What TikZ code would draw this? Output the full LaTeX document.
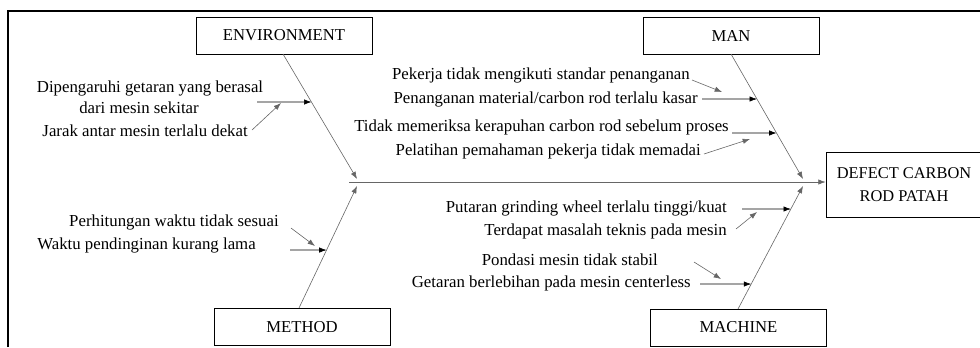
\documentclass[tikz,border=0pt]{standalone}
\usepackage{fontspec}
\setmainfont{Liberation Serif}
\usetikzlibrary{arrows.meta,calc}
\begin{document}
\begin{tikzpicture}[x=0.75pt,y=-0.75pt,
  catbox/.style={draw, line width=0.6pt, minimum width=132pt, minimum height=27.75pt, inner sep=0pt, font=\fontsize{12.5}{14}\selectfont},
  effbox/.style={draw, line width=0.6pt, minimum width=117pt, minimum height=48.75pt, inner sep=0pt, align=center, font=\fontsize{12.3}{17}\selectfont},
  lbl/.style={inner sep=0pt, font=\fontsize{12.6}{14}\selectfont},
  bone/.style={draw=black!60, line width=0.45pt, -{Latex[length=5.5pt,width=4pt]}},
  sub/.style={draw=black, line width=0.45pt, -{Latex[length=5.5pt,width=4pt]}},
  subg/.style={draw=black!60, line width=0.45pt, -{Latex[length=5.5pt,width=4pt]}}]
\useasboundingbox (0,0) rectangle (980,347);
% frame
\draw[line width=1.5pt] (7.5,347) -- (7.5,10.5) -- (980,10.5);
% boxes
\node[catbox] (env) at (284,35.5) {ENVIRONMENT};
\node[catbox] (man) at (731,35.5) {MAN};
\node[catbox] (meth) at (302,327) {METHOD};
\node[catbox] (mach) at (738.5,327.5) {MACHINE};
\node[effbox] (eff) at (904,184.5) {DEFECT CARBON\\ROD PATAH};
% spine
\coordinate (spS) at (349,182);
\draw[bone] (spS) -- (eff.west |- spS);
% main bones
\coordinate (envS) at (283,54); \coordinate (envE) at (357,179);
\coordinate (manS) at (731,54); \coordinate (manE) at (803,179);
\coordinate (metS) at (299,308); \coordinate (metE) at (357,186);
\coordinate (macS) at (738,309); \coordinate (macE) at (803,186);
\draw[bone] (envS) -- (envE);
\draw[bone] (manS) -- (manE);
\draw[bone] (metS) -- (metE);
\draw[bone] (macS) -- (macE);
% ENVIRONMENT causes
\node[lbl] (e1) at (150,88) {Dipengaruhi getaran yang berasal};
\node[lbl] (e2) at (139,108) {dari mesin sekitar};
\node[lbl, anchor=east] (e3) at (248,131) {Jarak antar mesin terlalu dekat};
\coordinate (e1s) at (257,102);
\coordinate (e1e) at ($(envS)!0.384!(envE)$);
\draw[sub] (e1s) -- (e1e);
\coordinate (e3s) at (252,130); \coordinate (e3e) at (281,103);
\draw[subg] (e3s) -- (e3e);
% MAN causes
\node[lbl, anchor=east] (m1) at (690,75) {Pekerja tidak mengikuti standar penanganan};
\node[lbl, anchor=east] (m2) at (698,99) {Penanganan material/carbon rod terlalu kasar};
\node[lbl, anchor=east] (m3) at (729,127) {Tidak memeriksa kerapuhan carbon rod sebelum proses};
\node[lbl, anchor=east] (m4) at (701,151) {Pelatihan pemahaman pekerja tidak memadai};
\coordinate (m1s) at (692,80); \coordinate (m1e) at (722,92);
\draw[subg] (m1s) -- (m1e);
\coordinate (m2s) at (702,99); \coordinate (m2e) at ($(manS)!0.36!(manE)$);
\draw[sub] (m2s) -- (m2e);
\coordinate (m3s) at (732,133); \coordinate (m3e) at ($(manS)!0.632!(manE)$);
\draw[sub] (m3s) -- (m3e);
\coordinate (m4s) at (704,154); \coordinate (m4e) at (750,139);
\draw[subg] (m4s) -- (m4e);
% MACHINE causes
\node[lbl, anchor=east] (c1) at (727,208) {Putaran grinding wheel terlalu tinggi/kuat};
\node[lbl, anchor=east] (c2) at (727,231) {Terdapat masalah teknis pada mesin};
\node[lbl, anchor=east] (c3) at (658,260) {Pondasi mesin tidak stabil};
\node[lbl, anchor=east] (c4) at (691,283) {Getaran berlebihan pada mesin centerless};
\coordinate (c1s) at (742,209); \coordinate (c1e) at ($(macS)!0.813!(macE)$);
\draw[sub] (c1s) -- (c1e);
\coordinate (c2s) at (736,229); \coordinate (c2e) at (757,212);
\draw[subg] (c2s) -- (c2e);
\coordinate (c3s) at (694,262); \coordinate (c3e) at (721,279);
\draw[subg] (c3s) -- (c3e);
\coordinate (c4s) at (700,284); \coordinate (c4e) at ($(macS)!0.203!(macE)$);
\draw[sub] (c4s) -- (c4e);
% METHOD causes
\node[lbl, anchor=east] (t1) at (279,222) {Perhitungan waktu tidak sesuai};
\node[lbl, anchor=east] (t2) at (256,245) {Waktu pendinginan kurang lama};
\coordinate (t1s) at (291,228); \coordinate (t1e) at (315,246);
\draw[subg] (t1s) -- (t1e);
\coordinate (t2s) at (290,250); \coordinate (t2e) at ($(metS)!0.475!(metE)$);
\draw[sub] (t2s) -- (t2e);
\end{tikzpicture}
\end{document}
